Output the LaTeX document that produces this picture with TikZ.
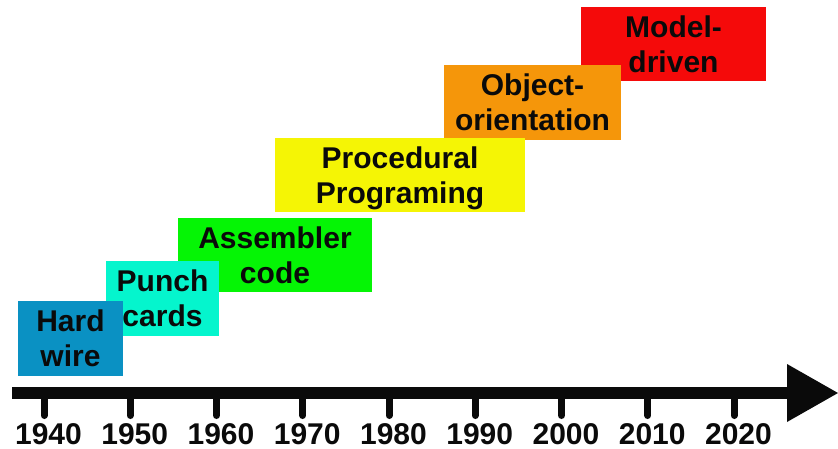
\documentclass[tikz,border=0pt]{standalone}
\usepackage{fontspec}
\setmainfont{Liberation Sans}
\definecolor{cBlue}{RGB}{10,145,195}
\definecolor{cCyan}{RGB}{5,245,205}
\definecolor{cGreen}{RGB}{5,245,5}
\definecolor{cYellow}{RGB}{245,245,5}
\definecolor{cOrange}{RGB}{245,150,10}
\definecolor{cRed}{RGB}{245,10,10}
\definecolor{cInk}{RGB}{10,10,10}
\tikzset{
  era/.style={rectangle, inner sep=0pt, outer sep=0pt, align=center, text depth=0pt,
    font=\fontsize{30}{35}\selectfont\bfseries, text=cInk},
  yearlabel/.style={anchor=base, inner sep=0pt, font=\fontsize{30}{36}\selectfont\bfseries, text=cInk},
  tickmark/.style={line width=7pt, line cap=round, draw=cInk},
}
\begin{document}
\begin{tikzpicture}[x=1pt, y=-1pt]
\useasboundingbox (0,0) rectangle (838,448);
% era boxes (drawn from top-right to bottom-left, later ones on top)
\node[era, fill=cRed, minimum width=185pt, minimum height=74pt] (md) at (673.5,44) {Model-\\driven};
\node[era, fill=cOrange, minimum width=177pt, minimum height=75pt] (oo) at (532.5,102.5) {Object-\\orientation};
\node[era, fill=cYellow, minimum width=250pt, minimum height=74pt] (pp) at (400,175) {Procedural\\Programing};
\node[era, fill=cGreen, minimum width=194pt, minimum height=74pt] (ac) at (275,255) {Assembler\\code};
\node[era, fill=cCyan, minimum width=113pt, minimum height=75pt] (pc) at (162.5,298.5) {Punch\\cards};
\node[era, fill=cBlue, minimum width=105pt, minimum height=75pt] (hw) at (70.5,338.5) {Hard\\wire};
% axis
\coordinate (axstart) at (12,393);
\coordinate (axend) at (790,393);
\coordinate (tipA) at (787,364);
\coordinate (tipB) at (838,393);
\coordinate (tipC) at (787,422);
\draw[line width=12.6pt, draw=cInk] (axstart) -- (axend);
\fill[cInk] (tipA) -- (tipB) -- (tipC) -- cycle;
% ticks and years
\foreach \yr [count=\i from 0] in {1940,1950,1960,1970,1980,1990,2000,2010,2020} {
  \coordinate (t\yr) at ({44+86.25*\i},393);
  \coordinate (b\yr) at ({44+86.25*\i},415.5);
  \draw[tickmark] (t\yr) -- (b\yr);
  \node[yearlabel] (y\yr) at ({48.5+86.25*\i},444) {\yr};
}
\end{tikzpicture}
\end{document}
